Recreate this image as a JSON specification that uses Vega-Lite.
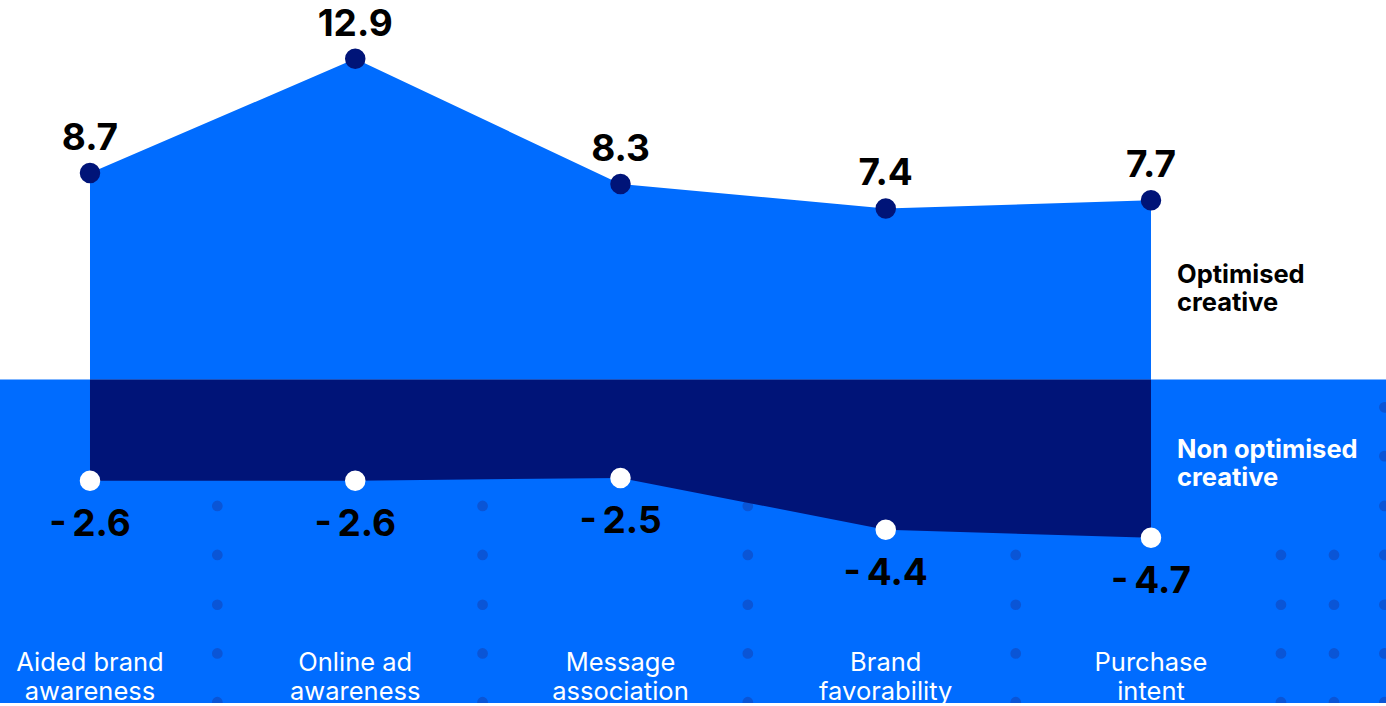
{
  "$schema": "https://vega.github.io/schema/vega-lite/v6.json",
  "width": 1386,
  "height": 706,
  "autosize": {"type": "fit", "contains": "padding"},
  "padding": 0,
  "background": "#ffffff",
  "config": {"view": {"stroke": null}},
  "datasets": {
    "main": [
      {"n": 1, "cat": "Aided brand\nawareness", "opt": 8.7, "non": -2.6},
      {"n": 2, "cat": "Online ad\nawareness", "opt": 12.9, "non": -2.6},
      {"n": 3, "cat": "Message\nassociation", "opt": 8.3, "non": -2.5},
      {"n": 4, "cat": "Brand\nfavorability", "opt": 7.4, "non": -4.4},
      {"n": 5, "cat": "Purchase\nintent", "opt": 7.7, "non": -4.7}
    ],
    "dots": [
      {"gx": 1.48, "gy": -3.53}, {"gx": 1.48, "gy": -5.33}, {"gx": 1.48, "gy": -7.16}, {"gx": 1.48, "gy": -8.95}, {"gx": 1.48, "gy": -10.74},
      {"gx": 2.48, "gy": -3.53}, {"gx": 2.48, "gy": -5.33}, {"gx": 2.48, "gy": -7.16}, {"gx": 2.48, "gy": -8.95}, {"gx": 2.48, "gy": -10.74},
      {"gx": 3.48, "gy": -3.53}, {"gx": 3.48, "gy": -5.33}, {"gx": 3.48, "gy": -7.16}, {"gx": 3.48, "gy": -8.95}, {"gx": 3.48, "gy": -10.74},
      {"gx": 4.49, "gy": -3.53}, {"gx": 4.49, "gy": -5.33}, {"gx": 4.49, "gy": -7.16}, {"gx": 4.49, "gy": -8.95}, {"gx": 4.49, "gy": -10.74},
      {"gx": 5.49, "gy": -5.33}, {"gx": 5.49, "gy": -7.16}, {"gx": 5.49, "gy": -8.95}, {"gx": 5.49, "gy": -10.74},
      {"gx": 5.69, "gy": -5.33}, {"gx": 5.69, "gy": -7.16}, {"gx": 5.69, "gy": -8.95}, {"gx": 5.69, "gy": -10.74},
      {"gx": 5.88, "gy": 0.095}, {"gx": 5.88, "gy": -1.7}, {"gx": 5.88, "gy": -3.53}, {"gx": 5.88, "gy": -5.33}, {"gx": 5.88, "gy": -7.16}, {"gx": 5.88, "gy": -8.95}, {"gx": 5.88, "gy": -10.74}
    ],
    "band": [{"zone": "below"}]
  },
  "layer": [
    {
      "data": {"name": "band"},
      "mark": {"type": "rect", "color": "#006cff"},
      "encoding": {
        "x": {"value": 0},
        "x2": {"value": "width"},
        "y": {"datum": 1.12, "type": "quantitative", "scale": {"domain": [-10.77, 15.06], "nice": false, "zero": false}, "axis": null},
        "y2": {"datum": -10.77}
      }
    },
    {
      "data": {"name": "dots"},
      "mark": {"type": "circle", "color": "#0a55d6", "size": 115, "opacity": 1, "clip": true},
      "encoding": {
        "x": {"field": "gx", "type": "quantitative", "scale": {"domain": [0.6607, 5.886], "nice": false, "zero": false}, "axis": null},
        "y": {"field": "gy", "type": "quantitative", "scale": {"domain": [-10.77, 15.06], "nice": false, "zero": false}, "axis": null}
      }
    },
    {
      "data": {"name": "main"},
      "mark": {"type": "area", "color": "#006cff", "opacity": 1, "interpolate": "linear"},
      "encoding": {
        "x": {"field": "n", "type": "quantitative", "scale": {"domain": [0.6607, 5.886], "nice": false, "zero": false}, "axis": null},
        "y": {"field": "opt", "type": "quantitative", "scale": {"domain": [-10.77, 15.06], "nice": false, "zero": false}, "axis": null},
        "y2": {"datum": 1.12}
      }
    },
    {
      "data": {"name": "main"},
      "mark": {"type": "area", "color": "#001478", "opacity": 1, "interpolate": "linear"},
      "encoding": {
        "x": {"field": "n", "type": "quantitative", "scale": {"domain": [0.6607, 5.886], "nice": false, "zero": false}, "axis": null},
        "y": {"field": "non", "type": "quantitative", "scale": {"domain": [-10.77, 15.06], "nice": false, "zero": false}, "axis": null},
        "y2": {"datum": 1.12}
      }
    },
    {
      "data": {"name": "main"},
      "mark": {"type": "circle", "color": "#001478", "size": 420, "opacity": 1},
      "encoding": {
        "x": {"field": "n", "type": "quantitative"},
        "y": {"field": "opt", "type": "quantitative"}
      }
    },
    {
      "data": {"name": "main"},
      "mark": {"type": "circle", "color": "#ffffff", "size": 420, "opacity": 1},
      "encoding": {
        "x": {"field": "n", "type": "quantitative"},
        "y": {"field": "non", "type": "quantitative"}
      }
    },
    {
      "data": {"name": "main"},
      "mark": {"type": "text", "font": "Inter", "fontSize": 37, "fontWeight": "bold", "color": "#000000", "baseline": "alphabetic", "align": "center", "dy": -23},
      "encoding": {
        "x": {"field": "n", "type": "quantitative"},
        "y": {"field": "opt", "type": "quantitative"},
        "text": {"field": "opt", "type": "quantitative", "format": ".1f"}
      }
    },
    {
      "data": {"name": "main"},
      "transform": [{"calculate": "'-\u2009' + format(abs(datum.non), '.1f')", "as": "nonLabel"}],
      "mark": {"type": "text", "font": "Inter", "fontSize": 37, "fontWeight": "bold", "color": "#000000", "baseline": "alphabetic", "align": "center", "dy": 55},
      "encoding": {
        "x": {"field": "n", "type": "quantitative"},
        "y": {"field": "non", "type": "quantitative"},
        "text": {"field": "nonLabel", "type": "nominal"}
      }
    },
    {
      "data": {"name": "main"},
      "mark": {"type": "text", "font": "Inter", "fontSize": 25.5, "fontWeight": 400, "color": "#ffffff", "baseline": "alphabetic", "align": "center", "lineBreak": "\n", "lineHeight": 29},
      "encoding": {
        "x": {"field": "n", "type": "quantitative"},
        "y": {"datum": -9.6, "type": "quantitative"},
        "text": {"field": "cat", "type": "nominal"}
      }
    },
    {
      "data": {"name": "band"},
      "mark": {"type": "text", "font": "Inter", "fontSize": 25.5, "fontWeight": "bold", "color": "#000000", "baseline": "alphabetic", "align": "left", "lineBreak": "\n", "lineHeight": 28, "dx": 26},
      "encoding": {
        "x": {"datum": 5, "type": "quantitative"},
        "y": {"datum": 4.66, "type": "quantitative"},
        "text": {"value": "Optimised\ncreative"}
      }
    },
    {
      "data": {"name": "band"},
      "mark": {"type": "text", "font": "Inter", "fontSize": 25.5, "fontWeight": "bold", "color": "#ffffff", "baseline": "alphabetic", "align": "left", "lineBreak": "\n", "lineHeight": 28, "dx": 26},
      "encoding": {
        "x": {"datum": 5, "type": "quantitative"},
        "y": {"datum": -1.77, "type": "quantitative"},
        "text": {"value": "Non optimised\ncreative"}
      }
    }
  ]
}
